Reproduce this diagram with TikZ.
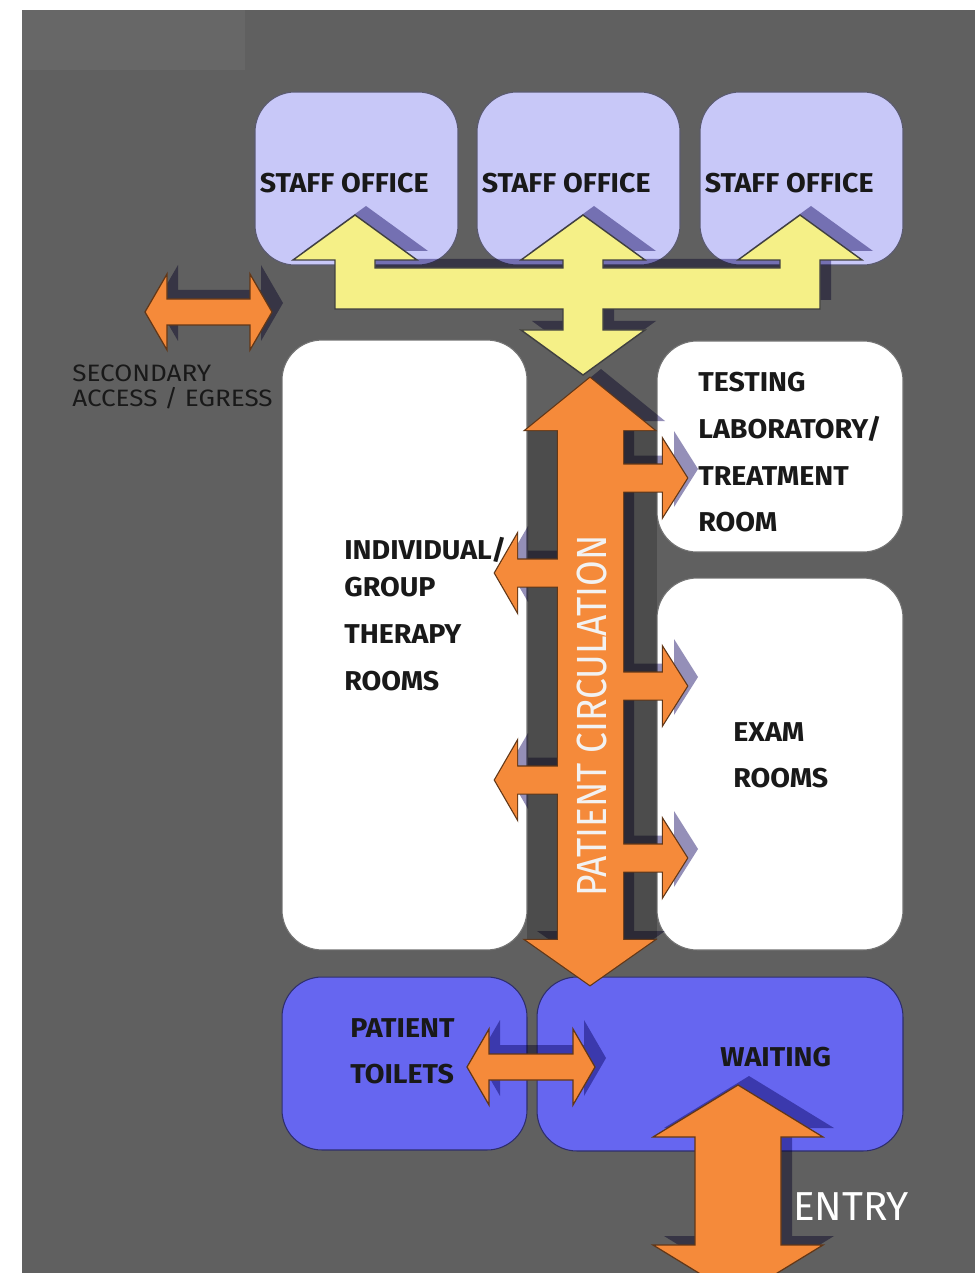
\documentclass[tikz,border=0pt]{standalone}
\usepackage{fontspec}
\setmainfont{Fira Sans}
\newfontfamily\roomfont[FakeStretch=1.05]{Fira Sans}
\newfontfamily\notefont[FakeStretch=1.1]{Fira Sans}
\newfontfamily\flowfont[FakeStretch=0.88]{Fira Sans}

\definecolor{wall}{RGB}{96,96,96}
\definecolor{band}{RGB}{103,103,103}
\definecolor{corridor}{RGB}{76,76,76}
\definecolor{office}{RGB}{200,200,248}
\definecolor{lobby}{RGB}{102,102,240}
\definecolor{staffway}{RGB}{245,240,135}
\definecolor{patientway}{RGB}{245,138,58}
\definecolor{tint}{rgb}{0.58,0.56,0.72}

% block arrows, in pixel units (y grows downwards)
\def\staffpath{(335,309) -- (335,260) -- (293,260) -- (355,215) -- (417,260) -- (375,260) -- (375,268)
  -- (563,268) -- (563,260) -- (521,260) -- (583,215) -- (645,260) -- (603,260) -- (603,268)
  -- (780,268) -- (780,260) -- (738,260) -- (800,215) -- (862,260) -- (820,260) -- (820,309)
  -- (603,309) -- (603,330) -- (645,330) -- (583,375) -- (521,330) -- (563,330) -- (563,309) -- cycle}
% #1 start on the spine, #2 head base, #3 tip, #4 centre line
\def\branch#1#2#3#4{(#1,#4-13.5) -- (#2,#4-13.5) -- (#2,#4-38) -- (#3,#4) -- (#2,#4+38)
  -- (#2,#4+13.5) -- (#1,#4+13.5) -- cycle}
\def\spinepath{(558,430) -- (526,430) -- (590,378) -- (654,430) -- (623,430) -- (623,940)
  -- (654,940) -- (590,985) -- (526,940) -- (558,940) -- cycle
  \branch{558}{517}{495}{573} \branch{558}{517}{495}{780}
  \branch{623}{663}{687}{478} \branch{623}{663}{687}{686} \branch{623}{663}{687}{858}}
% #1 left tip, #2 right tip, #3 centre line
\def\twoway#1#2#3{(#1,#3) -- (#1+22,#3-38) -- (#1+22,#3-13) -- (#2-22,#3-13) -- (#2-22,#3-38)
  -- (#2,#3) -- (#2-22,#3+38) -- (#2-22,#3+13) -- (#1+22,#3+13) -- (#1+22,#3+38) -- cycle}
\def\entrypath{(695,1137) -- (653,1137) -- (738,1085) -- (823,1137) -- (781,1137) -- (781,1245)
  -- (823,1245) -- (738,1297) -- (653,1245) -- (695,1245) -- cycle}

\tikzset{
  room/.style={rectangle, rounded corners=0.8cm, fill=#1, draw=#1!45!black, line width=0.6pt, inner sep=0pt},
  roomlabel/.style={font=\roomfont\bfseries\fontsize{15.5}{26.6}\selectfont, text=black!90,
    inner sep=0pt, align=left, anchor=north west},
  arrowshade/.style={fill=tint, blend mode=multiply},
}

\begin{document}
\begin{tikzpicture}[x=0.02cm, y=-0.02cm]
  \useasboundingbox (0,0) rectangle (975,1273);
  \fill[white] (0,0) rectangle (975,1273);
  \fill[wall] (22,10) rectangle (975,1273);
  \fill[band] (22,10) rectangle (245,70);
  % channel behind the spine
  \fill[corridor] (527,430) rectangle (657,940);

  % rooms
  \foreach \n/\cx in {1/356.5, 2/578.5, 3/801.5}
    \node[room=office, minimum width=4.06cm, minimum height=3.46cm] (office\n) at (\cx,178.5) {};
  \node[room=white, minimum width=4.9cm, minimum height=12.2cm] (therapy) at (404.5,645) {};
  \node[room=white, minimum width=4.92cm, minimum height=4.22cm] (testing) at (780,446.5) {};
  \node[room=white, minimum width=4.92cm, minimum height=7.44cm] (exam) at (780,764) {};
  \node[room=lobby, minimum width=4.9cm, minimum height=3.46cm] (toilets) at (404.5,1063.5) {};
  \node[room=lobby, minimum width=7.32cm, minimum height=3.48cm] (waiting) at (720,1064) {};

  % drop shadows
  \begin{scope}[shift={(11,-9)}, arrowshade]
    \fill \staffpath;
    \fill \spinepath;
    \fill \twoway{145}{272}{312};
    \fill \twoway{467}{595}{1067};
    \fill \entrypath;
  \end{scope}

  % staff and patient flows
  \filldraw[fill=staffway, draw=black!75, line width=0.8pt] \staffpath;
  \draw[patientway!40!black, line width=1.4pt] \spinepath;
  \fill[patientway] \spinepath;
  \foreach \l/\r/\y in {145/272/312, 467/595/1067}
    \filldraw[fill=patientway, draw=patientway!40!black, line width=0.7pt] \twoway{\l}{\r}{\y};
  \filldraw[fill=patientway, draw=patientway!40!black, line width=0.7pt] \entrypath;

  % labels
  \foreach \n in {1,2,3}
    \node[roomlabel, anchor=base west, xshift=0.1cm, yshift=-0.29cm] (staff\n) at (office\n.west) {STAFF OFFICE};
  \node[roomlabel] (testingtext) at (698,372) {TESTING\\LABORATORY/\\TREATMENT\\ROOM};
  \node[roomlabel] (therapytext) at (344,537) {INDIVIDUAL/\\[-5.5pt]GROUP\\THERAPY\\ROOMS};
  \node[roomlabel] (examtext) at (733,722) {EXAM\\ROOMS};
  \node[roomlabel] (toilettext) at (350,1018) {PATIENT\\TOILETS};
  \node[roomlabel] (waitingtext) at (720,1047) {WAITING};
  \node[font=\notefont\fontsize{13.5}{14.2}\selectfont, text=black!90, inner sep=0pt, align=left,
    anchor=north west] (accesstext) at (72,365) {SECONDARY\\ACCESS / EGRESS};
  \node[font=\fontsize{23}{23}\selectfont, text=white, inner sep=0pt, anchor=base west]
    (entrytext) at (793,1220) {ENTRY};
  \node[font=\flowfont\fontsize{24}{24}\selectfont, text=white!95!black, rotate=90, inner sep=0pt]
    (flowtext) at (592,716) {PATIENT CIRCULATION};
\end{tikzpicture}
\end{document}
